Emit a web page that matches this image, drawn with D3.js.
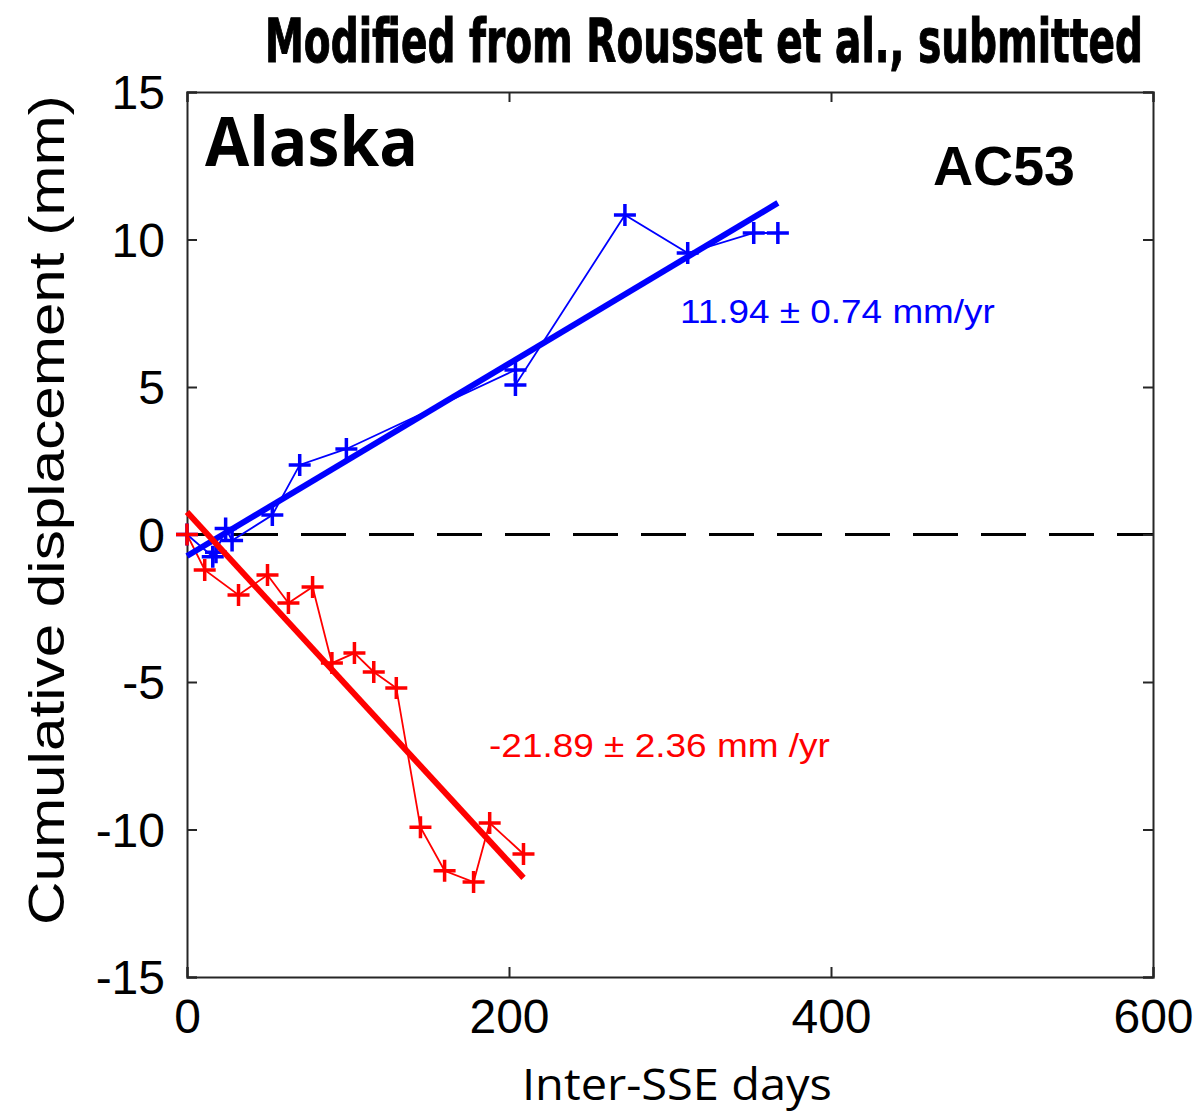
<!DOCTYPE html>
<html>
<head>
<meta charset="utf-8">
<script src="https://cdn.jsdelivr.net/npm/d3@7"></script>
<style>
html,body{margin:0;padding:0;background:#fff;}
svg{display:block;}
</style>
</head>
<body>
<svg id="chart" width="1200" height="1113"></svg>
<script>
// ---- data ----
const blueDays = [0, 16, 18, 24, 28, 53, 70, 99, 204, 204, 272, 311, 352, 367];
const blueVals = [0, -0.75, -0.6, 0.2, -0.2, 0.66, 2.36, 2.9, 5.58, 5.07, 10.83, 9.54, 10.22, 10.22];
const redDays = [0, 11, 32, 50, 63, 78, 90, 104, 116, 130, 145, 160, 178, 188, 209];
const redVals = [0, -1.2, -2.05, -1.37, -2.32, -1.78, -4.36, -4.02, -4.66, -5.2, -9.92, -11.4, -11.78, -9.78, -10.83];
const blueFitDays = [0, 367];
const blueFitVals = [-0.73, 11.24];
const redFitDays = [0, 209];
const redFitVals = [0.76, -11.64];
const xTicks = [0, 200, 400, 600];
const yTicks = [-15, -10, -5, 0, 5, 10, 15];
const blueLabel = "11.94 \u00b1 0.74 mm/yr";
const redLabel = "-21.89 \u00b1 2.36 mm /yr";

const svg = d3.select("#chart");
const L = 187, R = 1153, T = 92, B = 977;
const x = d3.scaleLinear().domain([0, 600]).range([L, R]);
const y = d3.scaleLinear().domain([-15, 15]).range([B, T]);
const axisColor = "#262626";
const tickFont = "'Liberation Sans', Arial, Helvetica, sans-serif";

// zero dashed line
svg.append("line")
  .attr("x1", x(0)).attr("x2", x(600)).attr("y1", y(0)).attr("y2", y(0))
  .attr("stroke", "#000").attr("stroke-width", 3)
  .attr("stroke-dasharray", "45,23").attr("stroke-dashoffset", 22);

// axes
const fmt = d => String(d);
const gB = svg.append("g").attr("transform", `translate(0,${B})`)
  .call(d3.axisBottom(x).tickValues(xTicks).tickSize(-10).tickPadding(22).tickFormat(fmt));
const gT = svg.append("g").attr("transform", `translate(0,${T})`)
  .call(d3.axisTop(x).tickValues(xTicks).tickSize(-10).tickFormat(""));
const gL = svg.append("g").attr("transform", `translate(${L},0)`)
  .call(d3.axisLeft(y).tickValues(yTicks).tickSize(-10).tickPadding(22).tickFormat(fmt));
const gR = svg.append("g").attr("transform", `translate(${R},0)`)
  .call(d3.axisRight(y).tickValues(yTicks).tickSize(-10).tickFormat(""));
[gB, gT, gL, gR].forEach(g => {
  g.select(".domain").attr("stroke", axisColor).attr("stroke-width", 2);
  g.selectAll(".tick line").attr("stroke", axisColor).attr("stroke-width", 2);
  g.selectAll(".tick text").attr("fill", "#000").attr("font-family", tickFont).attr("font-size", 48);
});
gB.selectAll(".tick text").attr("dy", "0.71em");
gL.selectAll(".tick text").attr("dy", "0.35em");

// thin connecting lines + markers
function series(days, vals, color) {
  const pts = days.map((d, i) => [d, vals[i]]);
  svg.append("path").datum(pts)
    .attr("d", d3.line().x(d => x(d[0])).y(d => y(d[1])))
    .attr("fill", "none").attr("stroke", color).attr("stroke-width", 1.8);
  const s = 11;
  svg.append("g").selectAll("path.m").data(pts).join("path")
    .attr("d", d => {
      const px = x(d[0]), py = y(d[1]);
      return `M${px - s},${py}H${px + s}M${px},${py - s}V${py + s}`;
    })
    .attr("stroke", color).attr("stroke-width", 3.5).attr("fill", "none");
}
function fit(days, vals, color) {
  const pts = days.map((d, i) => [d, vals[i]]);
  svg.append("path").datum(pts)
    .attr("d", d3.line().x(d => x(d[0])).y(d => y(d[1])))
    .attr("fill", "none").attr("stroke", color).attr("stroke-width", 6);
}
series(blueDays, blueVals, "#0000ff");
series(redDays, redVals, "#ff0000");
fit(blueFitDays, blueFitVals, "#0000ff");
fit(redFitDays, redFitVals, "#ff0000");

// text fitted to a width via horizontal scale
function fitText(sel, x0, y0, width, rotate) {
  const w = sel.node().getComputedTextLength();
  const k = width / w;
  if (rotate) sel.attr("transform", `translate(${x0},${y0}) rotate(-90) scale(${k},1)`);
  else sel.attr("transform", `translate(${x0},${y0}) scale(${k},1)`);
}

// annotations
fitText(svg.append("text").text(blueLabel)
  .attr("fill", "#0000ff").attr("font-family", tickFont).attr("font-size", 34), 680, 323, 315);
fitText(svg.append("text").text(redLabel)
  .attr("fill", "#ff0000").attr("font-family", tickFont).attr("font-size", 34), 489, 757, 341);

fitText(svg.append("text").text("Alaska")
  .attr("font-family", "'Open Sans', 'DejaVu Sans', sans-serif").attr("font-weight", 700)
  .attr("font-size", 68), 205, 166, 213);
fitText(svg.append("text").text("AC53")
  .attr("font-family", tickFont).attr("font-weight", 700).attr("font-size", 56), 933, 185, 142);

// title
fitText(svg.append("text").text("Modified from Rousset et al., submitted")
  .attr("font-family", "'Liberation Sans Narrow', 'DejaVu Sans Condensed', 'Open Sans', sans-serif")
  .attr("font-weight", 700).attr("font-size", 60)
  .attr("stroke", "#000").attr("stroke-width", 1), 265, 62, 878);

// axis labels
fitText(svg.append("text").text("Inter-SSE days")
  .attr("font-family", "'Open Sans', 'Noto Sans', sans-serif").attr("font-size", 44), 522, 1100, 310);
fitText(svg.append("text").text("Cumulative displacement (mm)")
  .attr("font-family", tickFont).attr("font-size", 50), 64, 925, 830, true);
</script>
</body>
</html>
